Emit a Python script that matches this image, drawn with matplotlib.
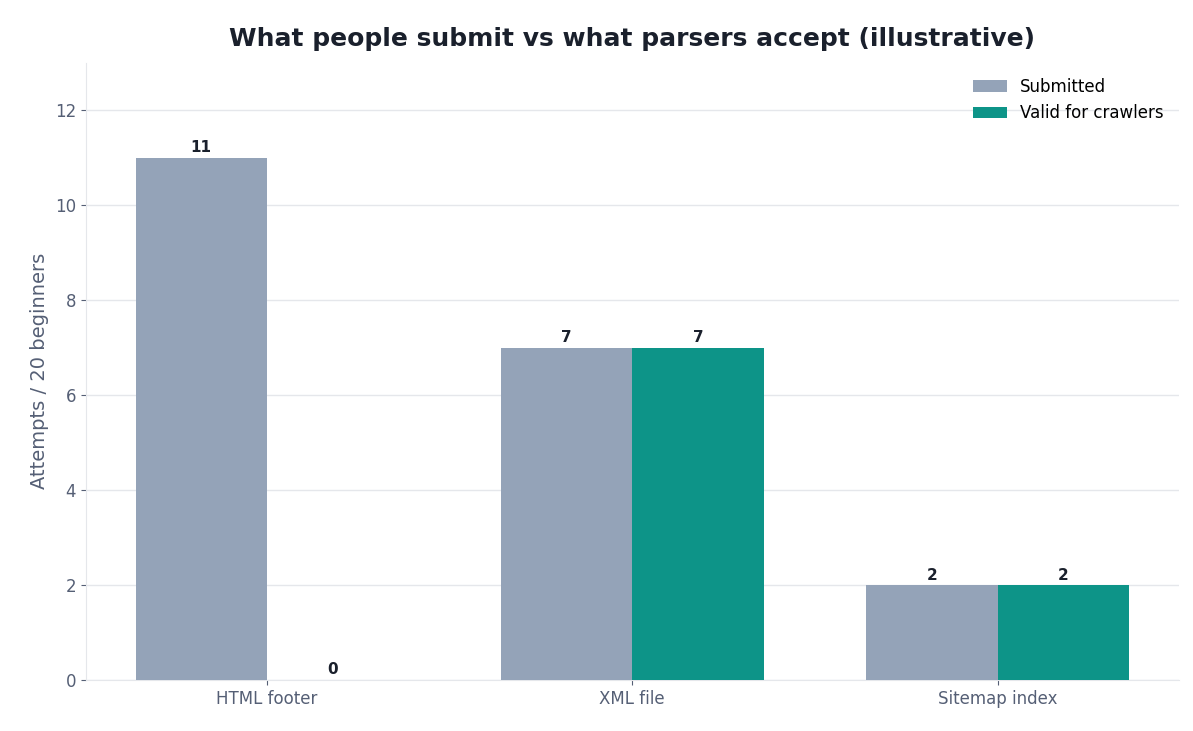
import numpy as np
import matplotlib.pyplot as plt

categories = ["HTML footer", "XML file", "Sitemap index"]
submitted = [11, 7, 2]
valid = [0, 7, 2]

fig, ax = plt.subplots(figsize=(11.93, 7.31), dpi=100)
fig.subplots_adjust(left=0.072, right=0.988, top=0.914, bottom=0.07)

x = np.arange(len(categories))
w = 0.36
b1 = ax.bar(x - w / 2, submitted, w, color="#94a3b8", label="Submitted", zorder=3)
b2 = ax.bar(x + w / 2, valid, w, color="#0d9488", label="Valid for crawlers", zorder=3)

for bars in (b1, b2):
    for r in bars:
        ax.text(r.get_x() + r.get_width() / 2, r.get_height() + 0.05, f"{int(r.get_height())}",
                ha="center", va="bottom", fontsize=11, fontweight="bold", color="#1a202c")

ax.set_ylim(0, 13)
ax.set_xticks(x)
ax.set_xticklabels(categories)
ax.set_ylabel("Attempts / 20 beginners", fontsize=14, color="#555f75")
ax.set_title("What people submit vs what parsers accept (illustrative)",
             fontsize=18, fontweight="bold", color="#1a202c", pad=12)
ax.yaxis.grid(True, color="#e5e7eb", linewidth=1, zorder=0)
ax.tick_params(colors="#555f75", labelsize=12)
for s in ("top", "right"):
    ax.spines[s].set_visible(False)
for s in ("left", "bottom"):
    ax.spines[s].set_color("#e5e7eb")
ax.legend(frameon=False, fontsize=12, loc="upper right")

fig.savefig("out.png")
